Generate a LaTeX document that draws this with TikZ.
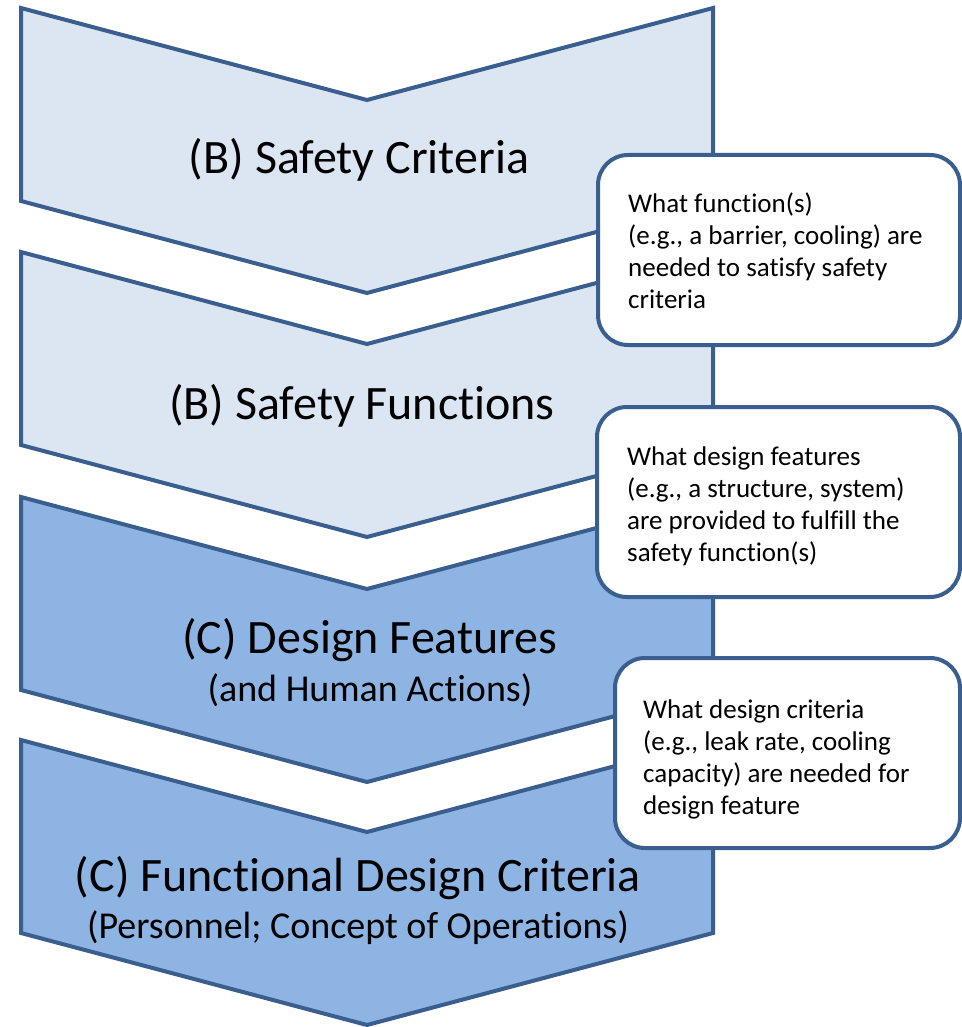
\documentclass[tikz,border=0pt]{standalone}
\usepackage{fontspec}
\setmainfont{Carlito}[Ligatures={NoCommon}]
\definecolor{lightfill}{HTML}{DCE6F2}
\definecolor{darkfill}{HTML}{8EB4E3}
\definecolor{edge}{HTML}{3A5F8F}
\begin{document}
\begin{tikzpicture}[x=1pt,y=-1pt,
  chev/.style={draw=edge, line width=4pt, line join=miter},
  callout/.style={draw=edge, fill=white, line width=4pt, rounded corners=30pt},
  bigtxt/.style={font=\fontsize{48}{54}\selectfont, inner sep=0pt},
  subtxt/.style={font=\fontsize{38}{42}\selectfont, inner sep=0pt},
  notetxt/.style={font=\fontsize{27}{32}\selectfont, align=left, anchor=north west, inner sep=0pt}]
\useasboundingbox (0,0) rectangle (961,1027);
% chevrons
\newcommand{\chevron}[2]{%
  \fill[#2] (21,#1) -- (367,#1+92) -- (713,#1) -- (713,#1+193) -- (367,#1+285) -- (21,#1+193) -- cycle;
  \draw[chev] (21,#1) -- (367,#1+92) -- (713,#1) -- (713,#1+193) -- (367,#1+285) -- (21,#1+193) -- cycle;}
\chevron{8}{lightfill}
\chevron{252}{lightfill}
\chevron{497}{darkfill}
\chevron{740}{darkfill}
% labels
\node[bigtxt] (sc) at (359,160) {(B) Safety Criteria};
\node[bigtxt] (sf) at (362,406) {(B) Safety Functions};
\node[bigtxt] (df) at (370,640) {(C) Design Features};
\node[subtxt] (ha) at (370,690) {(and Human Actions)};
\node[bigtxt] (fd) at (358,878) {(C) Functional Design Criteria};
\node[subtxt] (po) at (358,928) {(Personnel; Concept of Operations)};
% callouts
\draw[callout] (598,155) rectangle (960,345);
\node[notetxt] (n1) at (628,193) {What function(s)\\(e.g., a barrier, cooling) are\\needed to satisfy safety\\criteria};
\draw[callout] (597,407) rectangle (960,597);
\node[notetxt] (n2) at (627,447) {What design features\\(e.g., a structure, system)\\are provided to fulfill the\\safety function(s)};
\draw[callout] (615,658) rectangle (960,848);
\node[notetxt] (n3) at (643,700) {What design criteria\\(e.g., leak rate, cooling\\capacity) are needed for\\design feature};
\end{tikzpicture}
\end{document}
